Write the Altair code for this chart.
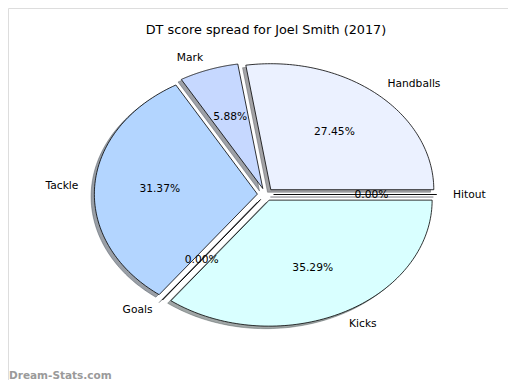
import altair as alt
import pandas as pd

# ---- data ----
labels = ["Handballs", "Mark", "Tackle", "Goals", "Kicks", "Hitout"]
values = [14, 3, 16, 0, 18, 0]
colors = ["#ebf1ff", "#c6d8ff", "#b3d5ff", "#d8e8ff", "#d9ffff", "#e0ecff"]
title_text = "DT score spread for Joel Smith (2017)"
watermark = "Dream-Stats.com"

# ---- style / layout constants ----
EXPLODE = 0.05
N = 90
W, H = 500, 372
CX, CY = 257.5, 186.5      # pie centre in view pixels
RX, RY = 163.0, 126.0      # pixels per radius unit
FONT = "DejaVu Sans"

xdom = [-CX / RX, (W - CX) / RX]
ydom = [-(H - CY) / RY, CY / RY]

rows = []
for i, (lab, val, col) in enumerate(zip(labels, values, colors)):
    for k in range(-1, N + 1):
        rows.append({"label": lab, "value": val, "color": col, "idx": i, "k": k})
df = pd.DataFrame(rows)

xs = alt.Scale(domain=xdom, range=[0, W], nice=False, zero=False)
ys = alt.Scale(domain=ydom, range=[H, 0], nice=False, zero=False)
noax = None

base = alt.Chart(df).transform_joinaggregate(
    total="sum(value)", groupby=["k"]
).transform_window(
    cum="sum(value)", groupby=["k"], sort=[alt.SortField("idx")], frame=[None, 0]
).transform_calculate(
    t0="2*PI*(datum.cum - datum.value)/datum.total",
    t1="2*PI*datum.cum/datum.total",
).transform_calculate(
    tm="(datum.t0 + datum.t1)/2",
    ang=f"datum.t0 + (datum.t1 - datum.t0)*max(datum.k,0)/{N}",
).transform_calculate(
    ox=f"{EXPLODE}*cos(datum.tm)",
    oy=f"{EXPLODE}*sin(datum.tm)",
).transform_calculate(
    px="datum.k < 0 ? datum.ox : datum.ox + cos(datum.ang)",
    py="datum.k < 0 ? datum.oy : datum.oy + sin(datum.ang)",
    sx="(datum.k < 0 ? datum.ox : datum.ox + cos(datum.ang)) - 0.02",
    sy="(datum.k < 0 ? datum.oy : datum.oy + sin(datum.ang)) - 0.02",
    scol="'rgb(' + 0.3*rgb(datum.color).r + ',' + 0.3*rgb(datum.color).g + ',' + 0.3*rgb(datum.color).b + ')'",
    lx="datum.ox + 1.1*cos(datum.tm)",
    ly="datum.oy + 1.1*sin(datum.tm)",
    cx_="datum.ox + 0.6*cos(datum.tm)",
    cy_="datum.oy + 0.6*sin(datum.tm)",
    pct="format(100*datum.value/datum.total, '.2f') + '%'",
)

shadow = base.mark_line(interpolate="linear-closed", strokeWidth=0.8,
                        fillOpacity=0.5, strokeOpacity=0.5).encode(
    x=alt.X("sx:Q", scale=xs, axis=noax),
    y=alt.Y("sy:Q", scale=ys, axis=noax),
    fill=alt.Fill("scol:N", scale=None),
    stroke=alt.Stroke("scol:N", scale=None),
    detail="label:N",
    order="k:Q",
)

wedges = base.mark_line(interpolate="linear-closed", stroke="black",
                        strokeWidth=0.8).encode(
    x=alt.X("px:Q", scale=xs, axis=noax),
    y=alt.Y("py:Q", scale=ys, axis=noax),
    fill=alt.Fill("color:N", scale=None),
    detail="label:N",
    order="k:Q",
)

one = base.transform_filter("datum.k == -1")

lab_right = one.transform_filter("datum.lx > 0").mark_text(
    align="left", baseline="middle", font=FONT, fontSize=10.7, color="black"
).encode(x=alt.X("lx:Q", scale=xs, axis=noax), y=alt.Y("ly:Q", scale=ys, axis=noax),
         text="label:N")

lab_left = one.transform_filter("datum.lx <= 0").mark_text(
    align="right", baseline="middle", font=FONT, fontSize=10.7, color="black"
).encode(x=alt.X("lx:Q", scale=xs, axis=noax), y=alt.Y("ly:Q", scale=ys, axis=noax),
         text="label:N")

pcts = one.mark_text(
    align="center", baseline="middle", font=FONT, fontSize=10.7, color="black"
).encode(x=alt.X("cx_:Q", scale=xs, axis=noax), y=alt.Y("cy_:Q", scale=ys, axis=noax),
         text="pct:N")

title = alt.Chart(pd.DataFrame({"t": [title_text]})).mark_text(
    align="center", baseline="middle", font=FONT, fontSize=12.8, color="black"
).encode(x=alt.value(258), y=alt.value(22), text="t:N")

wm = alt.Chart(pd.DataFrame({"t": [watermark]})).mark_text(
    align="left", baseline="alphabetic", font=FONT, fontSize=10.5, fontWeight="bold",
    color="#9a9a9a"
).encode(x=alt.value(1), y=alt.value(371), text="t:N")

chart = alt.layer(shadow, wedges, lab_right, lab_left, pcts, title, wm).properties(
    width=W, height=H, padding=0, autosize=alt.AutoSizeParams(type="none")
).configure_view(stroke="transparent", strokeWidth=0, fill="white").configure(background="white")

chart.save("out.html", embed_options={"renderer": "svg", "actions": False})
